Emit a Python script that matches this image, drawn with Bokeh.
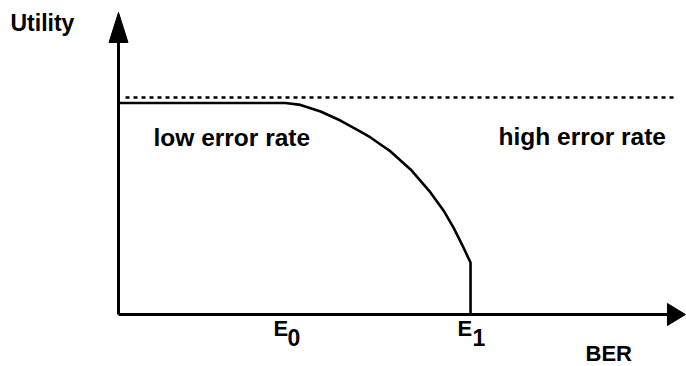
from bokeh.plotting import figure
from bokeh.models import Range1d, Label
from bokeh.embed import file_html
from bokeh.resources import INLINE

# ---------------- data ----------------
# BER in units of E0, utility in units of the flat (maximum) level
ber_curve = [0.0, 1.0, 1.090, 1.210, 1.329, 1.449, 1.509, 1.569, 1.629, 1.749,
             1.868, 1.946, 2.006, 2.060, 2.096, 2.108, 2.108]
utility_curve = [1.0, 1.0, 0.991, 0.960, 0.917, 0.865, 0.837, 0.804, 0.771, 0.686,
                 0.577, 0.492, 0.411, 0.326, 0.265, 0.246, 0.0]
E0 = 1.0
E1 = 2.108
ref_level = 1.026            # dotted reference line
ref_level_x = [0.042, 3.347]
x_axis_end = 3.395
y_axis_end = 1.428
x_label = "BER"
y_label = "Utility"
region_labels = ["low error rate", "high error rate"]
tick_names = ["E", "E"]
tick_subs = ["0", "1"]
tick_values = [E0, E1]

# ---------------- styling / layout ----------------
W, H = 686, 366
PX_X = 167.0   # pixels per BER unit
PX_Y = 211.5   # pixels per utility unit
ORIGIN_X = 118
ORIGIN_Y = 52
FONT = "Liberation Sans"
TEXT_SHIFT = 8  # empirical correction of label baseline placement

p = figure(width=W, height=H, output_backend="svg", toolbar_location=None,
           x_axis_type=None, y_axis_type=None, min_border=0,
           x_range=Range1d(-ORIGIN_X / PX_X, (W - ORIGIN_X) / PX_X),
           y_range=Range1d(-ORIGIN_Y / PX_Y, (H - ORIGIN_Y) / PX_Y))
p.outline_line_color = None
p.grid.visible = False
p.background_fill_color = "white"
p.border_fill_color = "white"

# axes with arrow heads
yh_len, yh_w = 30 / PX_Y, 9.5 / PX_X
xh_len, xh_w = 18 / PX_X, 11 / PX_Y
p.line([0, 0], [0, y_axis_end - yh_len], line_color="black", line_width=3)
p.line([0, x_axis_end - xh_len], [0, 0], line_color="black", line_width=3)
p.patch([-yh_w, yh_w, 0], [y_axis_end - yh_len, y_axis_end - yh_len, y_axis_end],
        fill_color="black", line_color="black", line_width=1)
p.patch([x_axis_end - xh_len, x_axis_end - xh_len, x_axis_end], [-xh_w, xh_w, 0],
        fill_color="black", line_color="black", line_width=1)

# dotted reference level
p.line(ref_level_x, [ref_level, ref_level], line_color="black", line_width=2.4,
       line_dash="4 4")

# utility curve
p.line(ber_curve, utility_curve, line_color="black", line_width=2.6, line_join="round")

# texts (y given as baseline position from the top of the picture)
def lab(text, x, y_top, size, xu="screen", xo=0):
    p.add_layout(Label(x=x, y=H - y_top + TEXT_SHIFT, x_units=xu, y_units="screen",
                       x_offset=xo, text=text, text_font=FONT,
                       text_font_size=f"{size}px", text_font_style="bold",
                       text_color="black", text_baseline="alphabetic",
                       text_align="left"))

lab(y_label, 10, 30, 23)
lab(region_labels[0], 153, 145, 24.5)
lab(region_labels[1], 498, 144, 24.5)
lab(x_label, 585, 361, 22)
for name, sub, val, e_off in zip(tick_names, tick_subs, tick_values, [-12, -13]):
    lab(name, val, 336, 22, xu="data", xo=e_off)
    lab(sub, val, 345, 23, xu="data", xo=2)

open("out.html", "w").write(file_html(p, INLINE))
